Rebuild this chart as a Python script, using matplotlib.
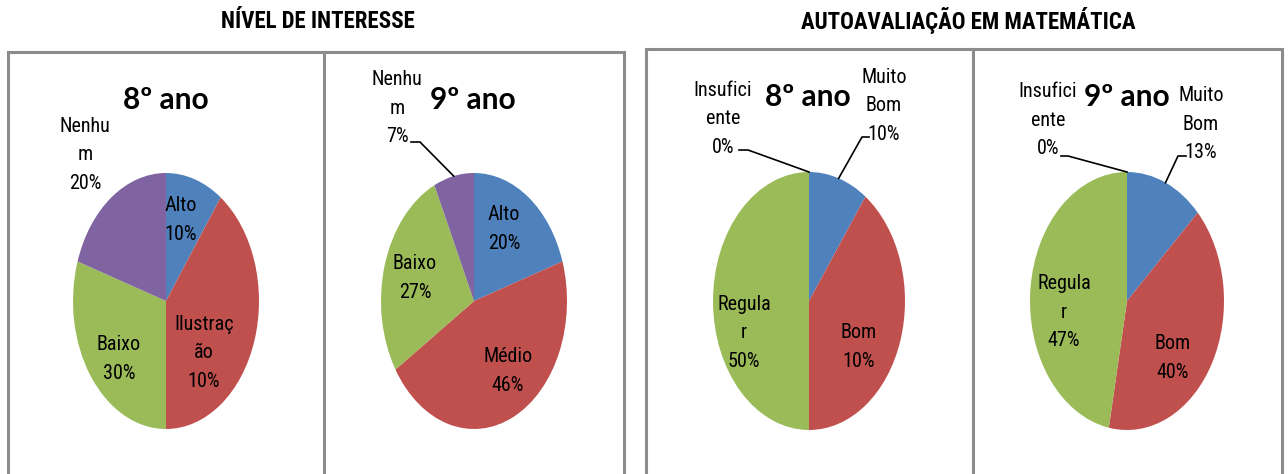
import matplotlib
matplotlib.use("Agg")
import matplotlib.pyplot as plt
import numpy as np
from matplotlib.lines import Line2D
from matplotlib import font_manager

W, H = 1288, 474

# ---------------- data ----------------
group_titles = ["NÍVEL DE INTERESSE", "AUTOAVALIAÇÃO EM MATEMÁTICA"]
chart_titles = ["8º ano", "9º ano", "8º ano", "9º ano"]

interesse_categorias = ["Alto", "Ilustração", "Baixo", "Nenhum"]
interesse_8_valores = [10, 40, 30, 20]
interesse_8_rotulos = ["Alto\n10%", "Ilustraç\não\n10%", "Baixo\n30%", "Nenhu\nm\n20%"]

interesse9_categorias = ["Alto", "Médio", "Baixo", "Nenhum"]
interesse_9_valores = [20, 46, 27, 7]
interesse_9_rotulos = ["Alto\n20%", "Médio\n46%", "Baixo\n27%", "Nenhu\nm\n7%"]

auto_categorias = ["Muito Bom", "Bom", "Regular", "Insuficiente"]
auto_8_valores = [10, 40, 50, 0]
auto_8_rotulos = ["Muito\nBom\n10%", "Bom\n10%", "Regula\nr\n50%", "Insufici\nente\n0%"]
auto_9_valores = [13, 40, 47, 0]
auto_9_rotulos = ["Muito\nBom\n13%", "Bom\n40%", "Regula\nr\n47%", "Insufici\nente\n0%"]

colors = ["#4F81BD", "#C0504D", "#9BBB59", "#8064A2"]

# ---------------- layout (pixels) ----------------
pies = [
    dict(vals=interesse_8_valores, labels=interesse_8_rotulos, cx=166, cy=301, rx=93, ry=128,
         title_xy=(166, 100),
         label_xy=[(181, 220), (204, 353), (119, 359), (85, 155)],
         leaders=[None, None, None, None]),
    dict(vals=interesse_9_valores, labels=interesse_9_rotulos, cx=474, cy=301, rx=93, ry=128,
         title_xy=(473, 100),
         label_xy=[(504, 229), (508, 371), (415, 278), (397, 108)],
         leaders=[None, None, None, (411, 142, 420)]),
    dict(vals=auto_8_valores, labels=auto_8_rotulos, cx=809, cy=301, rx=96, ry=129,
         title_xy=(808, 97),
         label_xy=[(884, 106), (859, 347), (744, 333), (723, 119)],
         leaders=[(869, 137, 862), None, None, (739, 150, 748)]),
    dict(vals=auto_9_valores, labels=auto_9_rotulos, cx=1127, cy=301, rx=97, ry=129,
         title_xy=(1127, 97),
         label_xy=[(1201, 124), (1173, 358), (1064, 312), (1048, 120)],
         leaders=[(1186, 156, 1178), None, None, (1061, 156, 1068)]),
]

boxes = [  # (left, top, right, divider)
    (8, 52, 624, 324),
    (646, 49, 1282, 973),
]
group_title_xy = [(318, 21), (968, 21)]

# ---------------- font choice ----------------
names = {f.name for f in font_manager.fontManager.ttflist}
if "Liberation Sans Narrow" in names:
    NARROW = "Liberation Sans Narrow"
elif "Roboto Condensed" in names:
    NARROW = "Roboto Condensed"
else:
    NARROW = "Roboto"
LABEL_FONT = [NARROW, "DejaVu Sans"]
TITLE_FONT = ["Lato", "DejaVu Sans"]


def fx(x):
    return x / W


def fy(y):
    return 1 - y / H


fig = plt.figure(figsize=(W / 100, H / 100), dpi=100)
fig.patch.set_facecolor("white")

for (l, t, r, d) in boxes:
    fig.add_artist(Line2D([fx(l), fx(l), fx(r), fx(r)], [fy(H + 10), fy(t), fy(t), fy(H + 10)],
                          color="#8C8C8C", lw=2.2, solid_joinstyle="miter"))
    fig.add_artist(Line2D([fx(d), fx(d)], [fy(t), fy(H + 10)], color="#8C8C8C", lw=2.2))

for (txt, (x, y)) in zip(group_titles, group_title_xy):
    fig.text(fx(x), fy(y), txt, ha="center", va="center", fontsize=16.5, fontweight="bold",
             family=LABEL_FONT, color="black")

for p, title in zip(pies, chart_titles):
    cx, cy, rx, ry = p["cx"], p["cy"], p["rx"], p["ry"]
    ax = fig.add_axes([fx(cx - rx), fy(cy + ry), 2 * rx / W, 2 * ry / H])
    wedges, _ = ax.pie(p["vals"], colors=colors, startangle=90, counterclock=False,
                       wedgeprops=dict(linewidth=0))
    ax.set_xlim(-1, 1)
    ax.set_ylim(-1, 1)
    ax.set_aspect("auto")
    ax.axis("off")

    fig.text(fx(p["title_xy"][0]), fy(p["title_xy"][1]), title, ha="center", va="center",
             fontsize=21.5, fontweight="bold", family=TITLE_FONT, color="black")

    for w, lab, (lx, ly), lead in zip(wedges, p["labels"], p["label_xy"], p["leaders"]):
        fig.text(fx(lx), fy(ly), lab, ha="center", va="center", fontsize=14.5,
                 family=LABEL_FONT, color="black", linespacing=1.62)
        if lead is not None:
            sx, sy, kx = lead
            mid = np.deg2rad((w.theta1 + w.theta2) / 2)
            ex, ey = ax.transData.transform((np.cos(mid), np.sin(mid)))
            efx, efy = fig.transFigure.inverted().transform((ex, ey))
            fig.add_artist(Line2D([fx(sx), fx(kx), efx], [fy(sy), fy(sy), efy],
                                  color="black", lw=1.2))

fig.savefig("out.png", dpi=100, facecolor="white")
